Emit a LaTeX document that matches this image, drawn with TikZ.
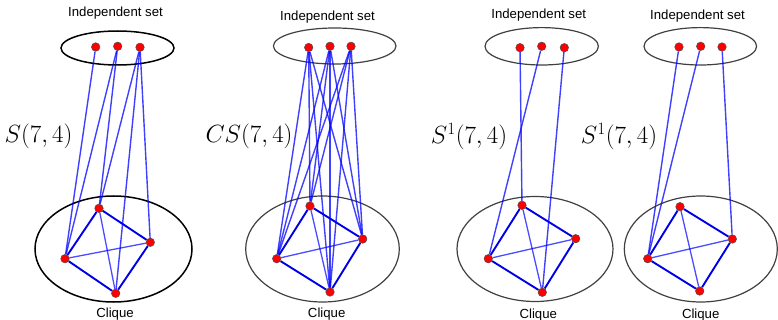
\documentclass[tikz,border=0pt]{standalone}
\usepackage{fontspec}
\newfontfamily\lsans{Liberation Sans}
\pgfdeclarelayer{bg}
\pgfsetlayers{bg,main}
\tikzset{
 vdot/.style={circle,fill=red,draw=black!70,line width=0.5pt,inner sep=0pt,minimum size=8.5pt},
 kedge/.style={draw=blue!90!black,line width=1.9pt},
 dedge/.style={draw=blue,line width=1.3pt,opacity=0.7},
 iedge/.style={draw=blue,line width=1.4pt,opacity=0.75},
 setA/.style={draw=black,line width=1.5pt},
 setB/.style={draw=black!75,line width=1.2pt},
 txt/.style={font=\lsans\fontsize{13.2}{15}\selectfont,anchor=base,inner sep=0pt},
 mlab/.style={font=\fontsize{23.5}{28}\selectfont,inner sep=0pt},
}
\begin{document}
\begin{tikzpicture}[x=1pt,y=-1pt]
\useasboundingbox (0,0) rectangle (778,320);
% ---------- nodes: panel 1
\node[vdot] (a1) at (95.7,47) {};
\node[vdot] (a2) at (117.7,46.3) {};
\node[vdot] (a3) at (140,47.3) {};
\node[vdot] (at) at (99,208.3) {};
\node[vdot] (ar) at (150.3,242.3) {};
\node[vdot] (al) at (65,258.7) {};
\node[vdot] (ab) at (115.7,293.3) {};
% ---------- panel 2
\node[vdot] (b1) at (308.7,47.5) {};
\node[vdot] (b2) at (330,46.3) {};
\node[vdot] (b3) at (351,46.3) {};
\node[vdot] (bt) at (310,206) {};
\node[vdot] (br) at (362.7,239) {};
\node[vdot] (bl) at (276.7,258.7) {};
\node[vdot] (bb) at (330,292) {};
% ---------- panel 3
\node[vdot] (c1) at (520,47.7) {};
\node[vdot] (c2) at (541.7,46.3) {};
\node[vdot] (c3) at (564.3,47.7) {};
\node[vdot] (ct) at (522,205.3) {};
\node[vdot] (cr) at (575.7,238.7) {};
\node[vdot] (cl) at (488.3,258.7) {};
\node[vdot] (cb) at (542.3,292.3) {};
% ---------- panel 4
\node[vdot] (d1) at (679,47) {};
\node[vdot] (d2) at (700.7,46.3) {};
\node[vdot] (d3) at (722,47) {};
\node[vdot] (dt) at (680,206.7) {};
\node[vdot] (dr) at (732.3,239) {};
\node[vdot] (dl) at (647.7,258.7) {};
\node[vdot] (db) at (699.7,291) {};
% ---------- labels
\node[txt] (i1) at (115.5,16.7) {Independent set};
\node[txt] (i2) at (327.5,20.3) {Independent set};
\node[txt] (i3) at (538.7,18.5) {Independent set};
\node[txt] (i4) at (697.5,19.5) {Independent set};
\node[txt] (k1) at (115,317.8) {Clique};
\node[txt] (k2) at (326.7,317.3) {Clique};
\node[txt] (k3) at (538.3,318) {Clique};
\node[txt] (k4) at (700.7,318) {Clique};
\node[mlab] (m1) at (38.5,136) {$S(7,4)$};
\node[mlab] (m2) at (249,136.5) {$CS(7,4)$};
\node[mlab] (m3) at (469,136.5) {$S^1(7,4)$};
\node[mlab] (m4) at (619,136.5) {$S^1(7,4)$};
\begin{pgfonlayer}{bg}
% ellipses
\draw[setA] (117.5,48) ellipse [x radius=56.5pt, y radius=17pt];
\draw[setA] (113.5,249) ellipse [x radius=78.5pt, y radius=53pt];
\draw[setB] (334.7,46) ellipse [x radius=61.3pt, y radius=18pt];
\draw[setB] (322.5,249) ellipse [x radius=76.8pt, y radius=53pt];
\draw[setB] (541.7,46.3) ellipse [x radius=56.7pt, y radius=18.7pt];
\draw[setB] (535,249) ellipse [x radius=78pt, y radius=52.5pt];
\draw[setB] (700.3,46.3) ellipse [x radius=56.3pt, y radius=18.7pt];
\draw[setB] (700.8,249) ellipse [x radius=76.5pt, y radius=53pt];
% clique edges
\foreach \p in {a,b,c,d}{
  \draw[kedge] (\p t) -- (\p r) -- (\p b) -- (\p l) -- (\p t);
  \draw[dedge] (\p l) -- (\p r);
  \draw[dedge] (\p t) -- (\p b);
}
% panel 1 cross edges
\draw[iedge] (a1) -- (al);
\draw[iedge] (a2) -- (al);
\draw[iedge] (a2) -- (at);
\draw[iedge] (a3) -- (at);
\draw[iedge] (a3) -- (ab);
\draw[iedge] (a3) -- (ar);
% panel 2 complete
\foreach \i in {1,2,3}{
  \foreach \k in {t,r,l,b}{
    \draw[iedge] (b\i) -- (b\k);
  }
}
% panel 3
\draw[iedge] (c1) -- (ct);
\draw[iedge] (c2) -- (cl);
\draw[iedge] (c3) -- (cb);
% panel 4
\draw[iedge] (d1) -- (dl);
\draw[iedge] (d2) -- (dl);
\draw[iedge] (d3) -- (dr);
\end{pgfonlayer}
\end{tikzpicture}
\end{document}
